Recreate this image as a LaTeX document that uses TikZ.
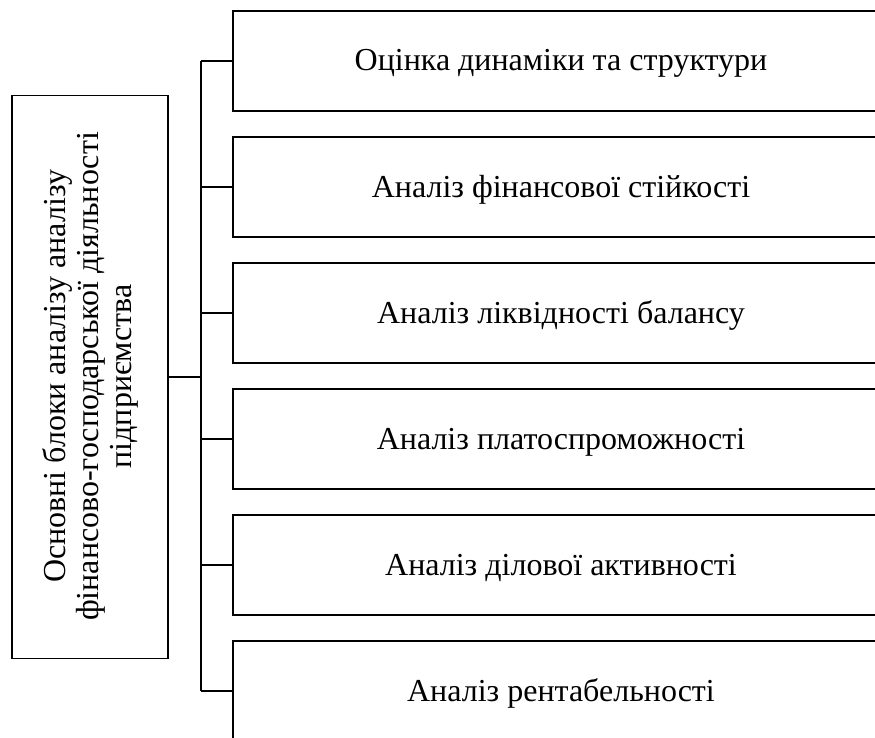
\documentclass[tikz,border=0pt]{standalone}
\usepackage{fontspec}
\setmainfont{Liberation Serif}
\begin{document}
\begin{tikzpicture}[x=1pt,y=-1pt,
  line width=1.5pt,
  rbox/.style={draw,minimum width=656pt,minimum height=100pt,inner sep=0pt,
    text height=24pt,text depth=4pt,font=\fontsize{32}{36}\selectfont},
  lbox/.style={draw,minimum width=156pt,minimum height=563pt,inner sep=0pt},
  ltext/.style={rotate=90,align=center,inner sep=0pt,font=\fontsize{32}{33}\selectfont}]
\useasboundingbox (0,0) rectangle (875,738);
\clip (0,0) rectangle (875,738);
\node[lbox] (L) at (90,377) {};
\node[ltext] (Lt) at (90,376.5) {Основні блоки аналізу аналізу\\фінансово-господарської діяльності\\підприємства};
\node[rbox] (b1) at (561,61) {Оцінка динаміки та структури};
\node[rbox] (b2) at (561,187) {Аналіз фінансової стійкості};
\node[rbox] (b3) at (561,313) {Аналіз ліквідності балансу};
\node[rbox] (b4) at (561,439) {Аналіз платоспроможності};
\node[rbox] (b5) at (561,565) {Аналіз ділової активності};
\node[rbox] (b6) at (561,691) {Аналіз рентабельності};
\coordinate (top) at (201,61);
\coordinate (bot) at (201,691);
\coordinate (mid) at (201,377);
\draw (top) -- (bot);
\draw (L.east) -- (mid);
\foreach \i in {1,...,6} {
  \draw (b\i.west) -- (b\i.west -| top);
}
\end{tikzpicture}
\end{document}
